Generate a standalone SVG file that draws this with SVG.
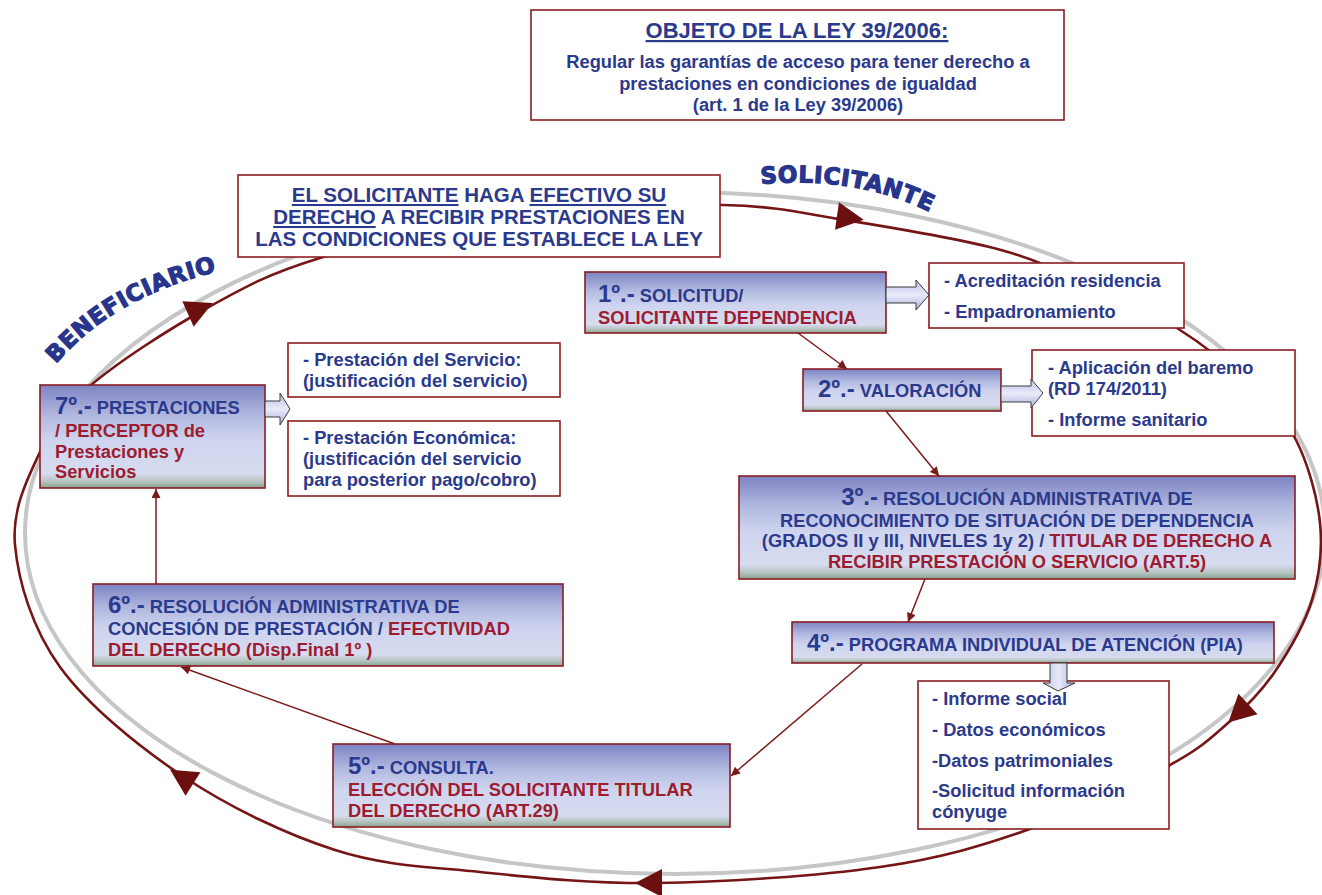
<svg xmlns="http://www.w3.org/2000/svg" width="1322" height="895" viewBox="0 0 1322 895">
<defs>
<style>
.t{font-family:"Liberation Sans",Arial,sans-serif;font-weight:bold;font-size:18.3px}
.b{fill:#2b3a8c}
.r{fill:#9c1c30}
.n{font-size:24px}
.f22{font-size:22px}
.f20{font-size:20.5px}
.u{text-decoration:underline}
.step{fill:url(#sg);stroke:#8b1c24;stroke-width:1.6}
.wbox{fill:#fff;stroke:#8b1c24;stroke-width:1.6}
.loop{fill:none;stroke:#751515;stroke-width:2.6}
.grey{fill:none;stroke:#c6c6c6;stroke-width:4}
.conn{fill:none;stroke:#7a1a1a;stroke-width:1.5;marker-end:url(#ah)}
.blk{fill:url(#bg);stroke:#3a3a3a;stroke-width:1}
.blkv{fill:url(#bgv);stroke:#3a3a3a;stroke-width:1}
.arc{font-family:"DejaVu Sans",sans-serif;font-weight:bold;font-size:23px;letter-spacing:0.6px;fill:#27358c;stroke:#27358c;stroke-width:1.2}
</style>
<linearGradient id="sg" x1="0" y1="0" x2="0" y2="1">
<stop offset="0" stop-color="#7d83c2"/>
<stop offset="0.3" stop-color="#b2b9e0"/>
<stop offset="0.55" stop-color="#cfd5ef"/>
<stop offset="0.86" stop-color="#d6dbef"/>
<stop offset="0.94" stop-color="#b4c3bd"/>
<stop offset="1" stop-color="#87a390"/>
</linearGradient>
<linearGradient id="bg" x1="0" y1="0" x2="0" y2="1">
<stop offset="0" stop-color="#b9bfe8"/>
<stop offset="0.5" stop-color="#e9ebf9"/>
<stop offset="1" stop-color="#a9b1de"/>
</linearGradient>
<linearGradient id="bgv" x1="0" y1="0" x2="1" y2="0">
<stop offset="0" stop-color="#b9bfe8"/>
<stop offset="0.5" stop-color="#e9ebf9"/>
<stop offset="1" stop-color="#a9b1de"/>
</linearGradient>
<marker id="ah" viewBox="0 0 10 10" refX="10" refY="5" markerWidth="10" markerHeight="9" markerUnits="userSpaceOnUse" orient="auto">
<path d="M0,0 L10,5 L0,10 z" fill="#7a1a1a"/>
</marker>
<path id="tri" d="M0,-14 L27,0 L0,14 Z" fill="#6b0f0f"/>
<path id="arcS" d="M 761 184 C 825 178, 892 188, 948 222"/>
<path id="arcB" d="M 56 364 C 94 320, 146 288, 224 270"/>
</defs>

<g id="cycle">
<ellipse class="grey" cx="675" cy="533" rx="650" ry="341"/>
<path class="loop" d="M320,258 C372.2,242 452.8,220.8 520,212 C587.2,203.2 668.8,203.7 723,205 C777.2,206.3 798.7,212.5 845,220 C891.3,227.5 958.5,238.3 1001,250 C1043.5,261.7 1070.7,277 1100,290 C1129.3,303 1152,312.2 1177,328 C1202,343.8 1230.2,366.3 1250,385 C1269.8,403.7 1284.3,417 1296,440 C1307.7,463 1317.3,496.3 1320,523 C1322.7,549.7 1319.7,575 1312,600 C1304.3,625 1288,652.5 1274,673 C1260,693.5 1245.7,707.5 1228,723 C1210.3,738.5 1201,748.3 1168,766 C1135,783.7 1078,812.2 1030,829 C982,845.8 942.2,858 880,867 C817.8,876 723.7,882.2 657,883 C590.3,883.8 533.7,877.5 480,872 C426.3,866.5 384.3,865.8 335,850 C285.7,834.2 229.8,807.5 184,777 C138.2,746.5 88.2,705.7 60,667 C31.8,628.3 18.3,580.8 15,545 C11.7,509.2 27.5,478.5 40,452 C52.5,425.5 62.2,410 90,386 C117.8,362 168.7,329.3 207,308 C245.3,286.7 267.8,274 320,258 Z"/>
<use href="#tri" transform="translate(837,216) rotate(8)"/>
<use href="#tri" transform="translate(1248,704) rotate(137)"/>
<use href="#tri" transform="translate(662,883) rotate(180)"/>
<use href="#tri" transform="translate(193,784) rotate(212)"/>
<use href="#tri" transform="translate(188,314) rotate(-24)"/>
<text class="arc"><textPath href="#arcS">SOLICITANTE</textPath></text>
<text class="arc"><textPath href="#arcB">BENEFICIARIO</textPath></text>
</g>

<g id="objeto">
<rect class="wbox" x="531" y="10" width="533" height="110"/>
<text class="t b f22 u" x="797" y="38" text-anchor="middle">OBJETO DE LA LEY 39/2006:</text>
<text class="t b" x="798" y="68" text-anchor="middle">Regular las garantías de acceso para tener derecho a</text>
<text class="t b" x="798" y="90" text-anchor="middle">prestaciones en condiciones de igualdad</text>
<text class="t b" x="798" y="111" text-anchor="middle">(art. 1 de la Ley 39/2006)</text>
</g>

<g id="solicitante">
<rect class="wbox" x="238" y="175" width="482" height="82"/>
<text class="t b f20" x="479" y="202" text-anchor="middle"><tspan class="u">EL SOLICITANTE</tspan> HAGA <tspan class="u">EFECTIVO SU</tspan></text>
<text class="t b f20" x="479" y="224" text-anchor="middle"><tspan class="u">DERECHO</tspan> A RECIBIR PRESTACIONES EN</text>
<text class="t b f20" x="479" y="246" text-anchor="middle">LAS CONDICIONES QUE ESTABLECE LA LEY</text>
</g>

<g id="paso1">
<rect class="step" x="585" y="272" width="301" height="61"/>
<text class="t b" x="598" y="302"><tspan class="n">1º.-</tspan> SOLICITUD/</text>
<text class="t r" x="598" y="324">SOLICITANTE DEPENDENCIA</text>
</g>

<g id="requisitos1">
<rect class="wbox" x="929" y="263" width="255" height="65"/>
<text class="t b" x="944" y="287">- Acreditación residencia</text>
<text class="t b" x="944" y="318">- Empadronamiento</text>
</g>

<g id="paso2">
<rect class="step" x="803" y="369" width="198" height="42"/>
<text class="t b" x="818" y="397"><tspan class="n">2º.-</tspan> VALORACIÓN</text>
</g>

<g id="valoracion">
<rect class="wbox" x="1032" y="350" width="263" height="86"/>
<text class="t b" x="1048" y="374">- Aplicación del baremo</text>
<text class="t b" x="1048" y="395">(RD 174/2011)</text>
<text class="t b" x="1048" y="426">- Informe sanitario</text>
</g>

<g id="paso3">
<rect class="step" x="739" y="476" width="556" height="103"/>
<text class="t b" x="1017" y="505" text-anchor="middle"><tspan class="n">3º.-</tspan> RESOLUCIÓN ADMINISTRATIVA DE</text>
<text class="t b" x="1017" y="527" text-anchor="middle">RECONOCIMIENTO DE SITUACIÓN DE DEPENDENCIA</text>
<text class="t b" x="1017" y="547" text-anchor="middle">(GRADOS II y III, NIVELES 1y 2) / <tspan class="r">TITULAR DE DERECHO A</tspan></text>
<text class="t r" x="1017" y="568" text-anchor="middle">RECIBIR PRESTACIÓN O SERVICIO (ART.5)</text>
</g>

<g id="paso4">
<rect class="step" x="792" y="622" width="482" height="41"/>
<text class="t b" x="807" y="651"><tspan class="n">4º.-</tspan> PROGRAMA INDIVIDUAL DE ATENCIÓN (PIA)</text>
</g>

<g id="pia">
<rect class="wbox" x="918" y="681" width="251" height="148"/>
<text class="t b" x="932" y="705">- Informe social</text>
<text class="t b" x="932" y="736">- Datos económicos</text>
<text class="t b" x="932" y="767">-Datos patrimoniales</text>
<text class="t b" x="932" y="797">-Solicitud información</text>
<text class="t b" x="932" y="818">cónyuge</text>
</g>

<g id="paso5">
<rect class="step" x="333" y="744" width="397" height="83"/>
<text class="t b" x="348" y="774"><tspan class="n">5º.-</tspan> CONSULTA.</text>
<text class="t r" x="348" y="796">ELECCIÓN DEL SOLICITANTE TITULAR</text>
<text class="t r" x="348" y="817">DEL DERECHO (ART.29)</text>
</g>

<g id="paso6">
<rect class="step" x="93" y="584" width="470" height="82"/>
<text class="t b" x="108" y="613"><tspan class="n">6º.-</tspan> RESOLUCIÓN ADMINISTRATIVA DE</text>
<text class="t b" x="108" y="635">CONCESIÓN DE PRESTACIÓN / <tspan class="r">EFECTIVIDAD</tspan></text>
<text class="t r" x="108" y="656">DEL DERECHO (Disp.Final 1º )</text>
</g>

<g id="paso7">
<rect class="step" x="40" y="385" width="225" height="103"/>
<text class="t b" x="55" y="414"><tspan class="n">7º.-</tspan> PRESTACIONES</text>
<text class="t r" x="55" y="437">/ PERCEPTOR de</text>
<text class="t r" x="55" y="458">Prestaciones y</text>
<text class="t r" x="55" y="478">Servicios</text>
</g>

<g id="servicio">
<rect class="wbox" x="288" y="343" width="272" height="54"/>
<text class="t b" x="303" y="366">- Prestación del Servicio:</text>
<text class="t b" x="303" y="387">(justificación del servicio)</text>
</g>

<g id="economica">
<rect class="wbox" x="288" y="421" width="272" height="75"/>
<text class="t b" x="303" y="444">- Prestación Económica:</text>
<text class="t b" x="303" y="465">(justificación del servicio</text>
<text class="t b" x="303" y="486">para posterior pago/cobro)</text>
</g>

<g id="connectors">
<line class="conn" x1="798" y1="333" x2="847" y2="369"/>
<line class="conn" x1="886" y1="411" x2="939" y2="476"/>
<line class="conn" x1="925" y1="579" x2="908" y2="622"/>
<line class="conn" x1="862" y1="664" x2="731" y2="776"/>
<line class="conn" x1="395" y1="744" x2="181" y2="667"/>
<line class="conn" x1="156" y1="584" x2="156" y2="489"/>
<path class="blk" d="M886,287 L916,287 L916,280 L929,295 L916,310 L916,303 L886,303 Z"/>
<path class="blk" d="M1001,386 L1031,386 L1031,379 L1043,393 L1031,408 L1031,402 L1001,402 Z"/>
<path class="blk" d="M265,401 L280,401 L280,393 L290,409 L280,425 L280,417 L265,417 Z"/>
<path class="blkv" d="M1050,663 L1067,663 L1067,683 L1075,683 L1058,691 L1043,683 L1050,683 Z"/>
</g>
</svg>
